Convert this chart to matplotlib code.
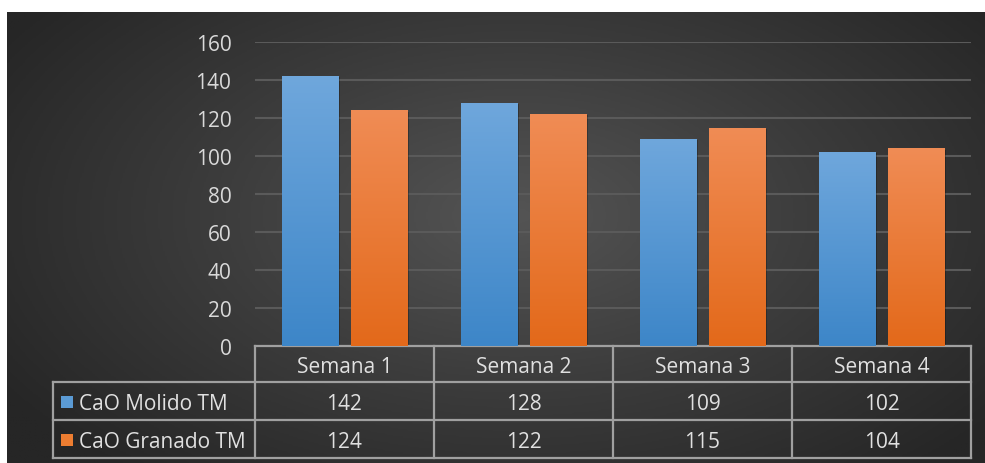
import numpy as np
import matplotlib
matplotlib.use("Agg")
import matplotlib.pyplot as plt
from matplotlib.patches import Rectangle
from matplotlib.colors import LinearSegmentedColormap

categories = ["Semana 1", "Semana 2", "Semana 3", "Semana 4"]
series_names = ["CaO Molido TM", "CaO Granado TM"]
molido = [142, 128, 109, 102]
granado = [124, 122, 115, 104]
yticks = [0, 20, 40, 60, 80, 100, 120, 140, 160]

plt.rcParams['font.family'] = ['Open Sans', 'DejaVu Sans']
FS = 15
W, H = 985, 464
fig = plt.figure(figsize=(W / 100, H / 100), dpi=100)
fig.patch.set_facecolor("white")

# background panel with radial gradient
bg = fig.add_axes([7 / W, 0, 1 - 7 / W, (H - 13) / H])
bg.set_axis_off()
ny, nx = 300, 600
yy, xx = np.mgrid[0:ny, 0:nx]
cx, cy = nx * 0.52, ny * 0.45
r = np.sqrt(((xx - cx) / (nx * 0.62)) ** 2 + ((yy - cy) / (ny * 0.75)) ** 2)
r = np.clip(r, 0, 1)
bgcmap = LinearSegmentedColormap.from_list("bg", ["#545454", "#3c3c3c", "#262626"])
bg.imshow(r, cmap=bgcmap, aspect="auto", extent=[0, 1, 0, 1], vmin=0, vmax=1)
bg.set_xlim(0, 1); bg.set_ylim(0, 1)

# main axes
L, R, T, B = 255, 971, 43, 347
ax = fig.add_axes([L / W, (H - B) / H, (R - L) / W, (B - T) / H])
ax.set_facecolor("none")
ax.set_xlim(-0.5, len(categories) - 0.5)
ax.set_ylim(0, 160)
ax.set_yticks(yticks)
ax.set_yticklabels([str(t) for t in yticks], fontsize=FS, color="#d9d9d9")
ax.tick_params(axis="y", length=0, pad=17)
ax.set_xticks([])
for s in ax.spines.values():
    s.set_visible(False)
ax.yaxis.grid(True, color="#5a5a5a", linewidth=1.5)
ax.set_axisbelow(True)

x = np.arange(len(categories))
bw = 0.313
off = 0.193
blue_cmap = LinearSegmentedColormap.from_list("b", ["#3d86c8", "#6fa7dc"])
orng_cmap = LinearSegmentedColormap.from_list("o", ["#e3691a", "#f08c55"])
for vals, dx, cm in [(molido, -off, blue_cmap), (granado, off, orng_cmap)]:
    bars = ax.bar(x + dx, vals, width=bw, color="none", zorder=3)
    for b in bars:
        x0, w_, h_ = b.get_x(), b.get_width(), b.get_height()
        # shadow
        ax.add_patch(Rectangle((x0 + 0.012, 0), w_, h_ - 0.6, facecolor="black",
                               alpha=0.25, zorder=2, linewidth=0))
        grad = np.linspace(0, 1, 256).reshape(-1, 1)
        im = ax.imshow(grad, cmap=cm, aspect="auto", origin="lower",
                       extent=[x0, x0 + w_, 0, h_], zorder=3)
        im.set_clip_path(b)

# data table
tc = "#a0a0a0"
txtc = "#e0e0e0"
ph = B - T
def yax(py):
    return -(py - B) / ph
rows_px = [347, 383, 421, 459]
tshift = 2.5  # px downward shift for text
lbl_left = -0.5 - (L - 53) / ((R - L) / len(categories))
tr = ax.get_xaxis_transform()
lw = 1.6
# horizontal lines
ax.plot([-0.5, len(categories) - 0.5], [yax(rows_px[0])] * 2, color=tc, lw=lw, transform=tr, clip_on=False)
for py in rows_px[1:]:
    ax.plot([lbl_left, len(categories) - 0.5], [yax(py)] * 2, color=tc, lw=lw, transform=tr, clip_on=False)
# vertical lines
for i in range(len(categories) + 1):
    ax.plot([i - 0.5] * 2, [yax(rows_px[0]), yax(rows_px[-1])], color=tc, lw=lw, transform=tr, clip_on=False)
ax.plot([lbl_left] * 2, [yax(rows_px[1]), yax(rows_px[-1])], color=tc, lw=lw, transform=tr, clip_on=False)

# header
hy = yax((rows_px[0] + rows_px[1]) / 2 + tshift)
for i, c in enumerate(categories):
    ax.text(i, hy, c, transform=tr, ha="center", va="center", fontsize=FS, color=txtc)
# rows
colors = ["#5b9bd5", "#ed7d31"]
px_per_cat = (R - L) / len(categories)
for r_i, (name, vals, col) in enumerate(zip(series_names, [molido, granado], colors)):
    mid = (rows_px[r_i + 1] + rows_px[r_i + 2]) / 2
    cy_ = yax(mid + tshift)
    for i, v in enumerate(vals):
        ax.text(i, cy_, str(v), transform=tr, ha="center", va="center", fontsize=FS, color=txtc)
    sq = 12 / px_per_cat
    sqh = 12 / ph
    sqc = yax(mid + 1)
    ax.add_patch(Rectangle((lbl_left + 8 / px_per_cat, sqc - sqh / 2), sq, sqh,
                           transform=tr, facecolor=col, edgecolor="none", clip_on=False))
    ax.text(lbl_left + 26 / px_per_cat, cy_, name, transform=tr, ha="left", va="center",
            fontsize=FS, color=txtc)

fig.savefig("out.png", dpi=100, facecolor=fig.get_facecolor())
